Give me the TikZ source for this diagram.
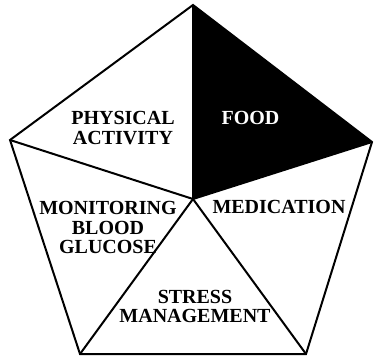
\documentclass[tikz,border=0pt]{standalone}
\usepackage{fontspec}
\setmainfont{Liberation Serif}
\usetikzlibrary{positioning}
\begin{document}
\begin{tikzpicture}[
  x=1pt, y=-1pt,
  seg/.style={draw=black, line width=2pt, line join=miter},
  lbl/.style={font=\fontsize{20}{19.5}\selectfont\bfseries, align=center, inner sep=0pt},
]
\useasboundingbox (0,0) rectangle (374,358);
\coordinate (apex) at (193,5);
\coordinate (rgt) at (372,142);
\coordinate (brt) at (306,354);
\coordinate (blt) at (80,354);
\coordinate (lft) at (10,140);
\coordinate (hub) at (193,199);
% food sector
\fill[black] (apex) -- (rgt) -- (hub) -- cycle;
\draw[seg] (apex) -- (rgt) -- (brt) -- (blt) -- (lft) -- cycle;
\foreach \v in {apex,rgt,brt,blt,lft}
  \draw[seg] (hub) -- (\v);
\node[lbl] (phys) at (123,128) {PHYSICAL\\ACTIVITY};
\node[lbl, text=white] (food) at (250.5,118) {FOOD};
\node[lbl] (meds) at (279,206.5) {MEDICATION};
\node[lbl] (mbg) at (108,227.5) {MONITORING\\BLOOD\\GLUCOSE};
\node[lbl] (stress) at (195,306.5) {STRESS\\MANAGEMENT};
\end{tikzpicture}
\end{document}
